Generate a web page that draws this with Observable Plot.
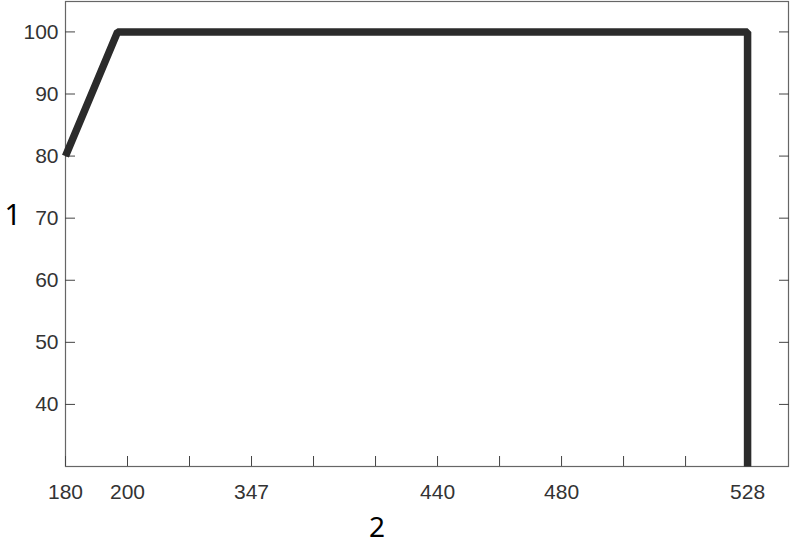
<!DOCTYPE html>
<html>
<head>
<meta charset="utf-8">
<script src="https://cdn.jsdelivr.net/npm/d3@7"></script>
<script src="https://cdn.jsdelivr.net/npm/@observablehq/plot@0.6"></script>
<style>
  html, body { margin: 0; padding: 0; background: #fff; }
  svg { overflow: visible; display: block; }
</style>
</head>
<body>
<div id="chart"></div>
<script>
// X axis: evenly spaced tick slots; only some slots carry a label
const xTickSlots = [0, 1, 2, 3, 4, 5, 6, 7, 8, 9, 10, 11];
const xTickLabels = ["180", "200", "", "347", "", "", "440", "", "480", "", "", "528"];
// Y axis ticks
const yTicks = [40, 50, 60, 70, 80, 90, 100];
// Series (x in tick-slot units, y in axis units)
const seriesX = [0, 0.84, 11, 11];
const seriesY = [80, 100, 100, 30];
const axisTitleY = "1";
const axisTitleX = "2";

const data = seriesX.map((x, i) => ({x, y: seriesY[i]}));

const tickFont = "'Liberation Sans', Arial, sans-serif";

const chart = Plot.plot({
  width: 790,
  height: 543,
  marginLeft: 65,
  marginRight: 2,
  marginTop: 1,
  marginBottom: 77,
  style: {background: "#fff", color: "#333"},
  x: {type: "linear", domain: [0, 11.66]},
  y: {domain: [30, 104.9]},
  marks: [
    Plot.frame({stroke: "#666", strokeWidth: 1.2}),
    Plot.axisY({ticks: yTicks, tickSize: 0, tickPadding: 7, label: null, fontSize: 21, fontFamily: tickFont, fill: "#333"}),
    Plot.axisY({anchor: "left", ticks: yTicks, tickSize: -10, text: null, label: null, stroke: "#444"}),
    Plot.axisY({anchor: "right", ticks: yTicks, tickSize: -10, text: null, label: null, stroke: "#444"}),
    Plot.axisX({ticks: xTickSlots, tickSize: 0, tickPadding: 18, tickFormat: i => xTickLabels[i], label: null, fontSize: 21, fontFamily: tickFont, fill: "#333"}),
    Plot.axisX({anchor: "bottom", ticks: xTickSlots, tickSize: -10, text: null, label: null, stroke: "#444"}),
    Plot.line(data, {x: "x", y: "y", stroke: "#2b2b2b", strokeWidth: 7.5, strokeLinejoin: "miter", strokeLinecap: "butt"}),
    Plot.text([axisTitleY], {frameAnchor: "left", dx: -61, dy: -18, fontSize: 29, fontFamily: "'Noto Sans', sans-serif", fill: "#000"}),
    Plot.text([axisTitleX], {frameAnchor: "bottom", dx: -50, dy: 70, fontSize: 28, fontFamily: "'Noto Sans', sans-serif", fill: "#000"})
  ]
});
document.getElementById("chart").appendChild(chart);
</script>
</body>
</html>
